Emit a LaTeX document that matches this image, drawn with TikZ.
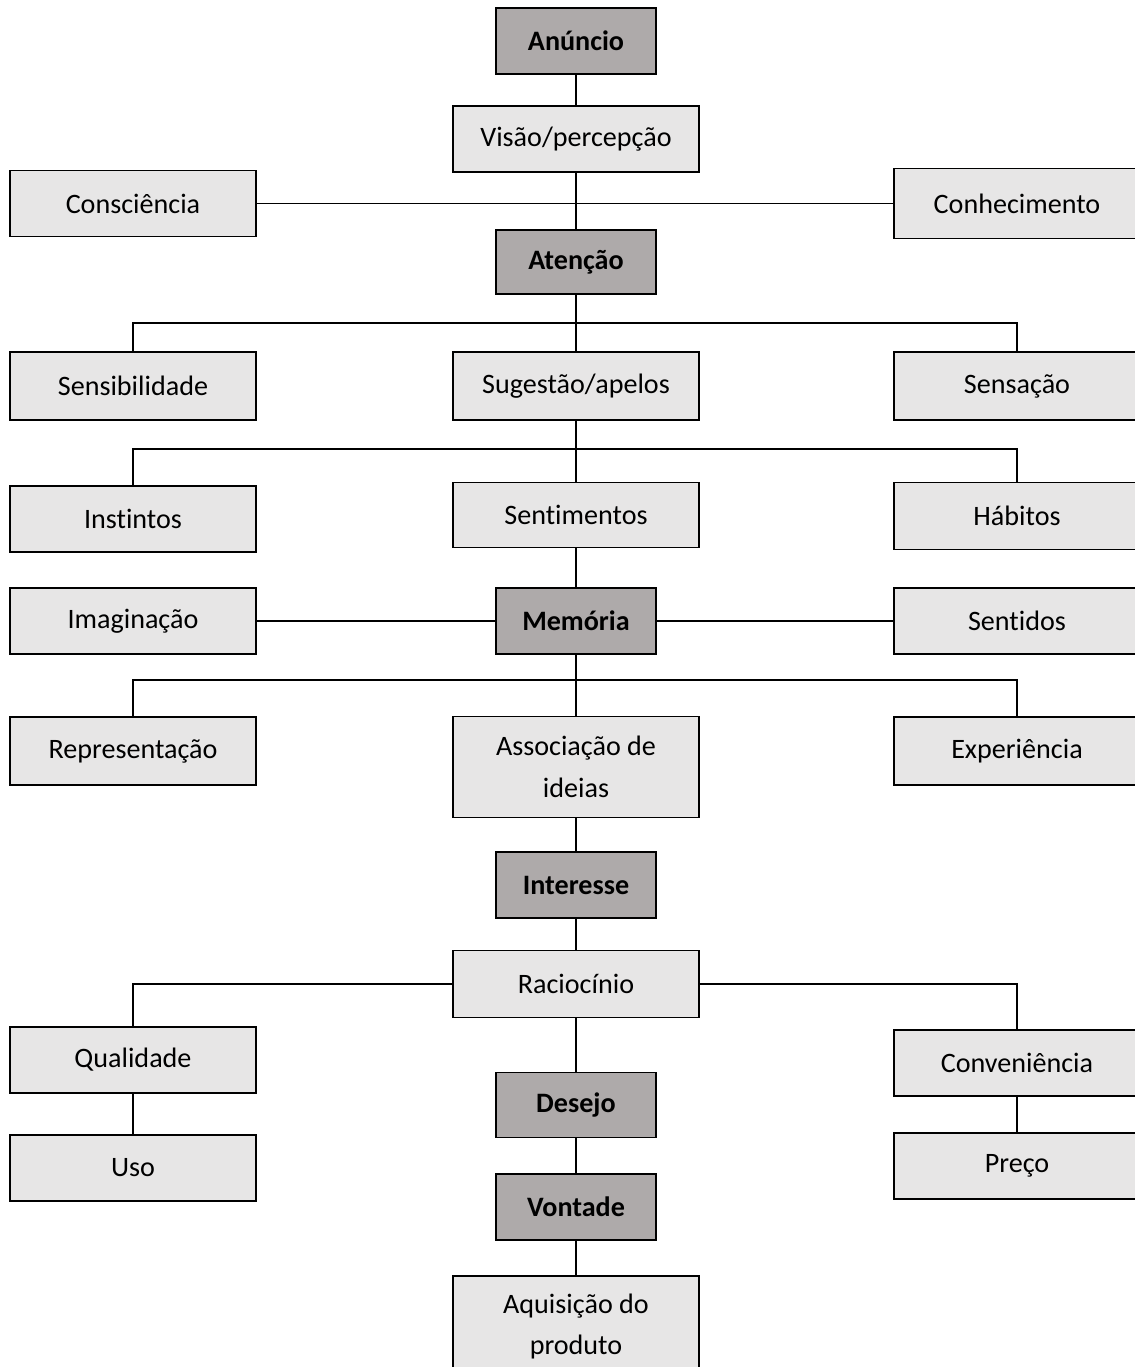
\documentclass[tikz,border=0pt]{standalone}
\usepackage{fontspec}
\setmainfont{Carlito}[RawFeature=-liga]
\usepackage{tikz}
\usetikzlibrary{positioning}

\definecolor{darkbox}{HTML}{AEAAAA}
\definecolor{lightbox}{HTML}{E7E6E6}

\begin{document}
\begin{tikzpicture}[
  box/.style={draw, line width=1.1pt, fill=lightbox, minimum width=4.92cm, minimum height=1.32cm,
              align=center, inner sep=0pt, font=\fontsize{16}{23.8}\selectfont},
  stage/.style={box, fill=darkbox, minimum width=3.2cm, font=\fontsize{16}{23.8}\selectfont\bfseries},
  tall/.style={minimum height=2.02cm},
  link/.style={line width=1.1pt}
]
  \useasboundingbox (0,0) rectangle (22.7,-27.34);

  % Main column
  \node[stage] at (11.52,-0.82) (anun) {Anúncio};
  \node[box] at (11.52,-2.78) (visao) {Visão/percepção};
  \node[stage, minimum height=1.28cm] at (11.52,-5.24) (aten) {Atenção};
  \node[box, minimum height=1.36cm] at (11.52,-7.72) (suges) {Sugestão/apelos};
  \node[box, minimum height=1.30cm] at (11.52,-10.30) (senti) {Sentimentos};
  \node[stage] at (11.52,-12.42) (memo) {Memória};
  \node[box, tall] at (11.52,-15.34) (assoc) {Associação de\\ideias};
  \node[stage] at (11.52,-17.70) (inter) {Interesse};
  \node[box, minimum height=1.34cm] at (11.52,-19.68) (racio) {Raciocínio};
  \node[stage, minimum height=1.30cm] at (11.52,-22.10) (desejo) {Desejo};
  \node[stage] at (11.52,-24.14) (vontade) {Vontade};
  \node[box, tall] at (11.52,-26.53) (aquis) {Aquisição do\\produto};

  % Left column
  \node[box] at (2.66,-4.07) (consc) {Consciência};
  \node[box, minimum height=1.36cm] at (2.66,-7.72) (sensib) {Sensibilidade};
  \node[box] at (2.66,-10.38) (instin) {Instintos};
  \node[box] at (2.66,-12.42) (imagin) {Imaginação};
  \node[box, minimum height=1.36cm] at (2.66,-15.02) (repres) {Representação};
  \node[box] at (2.66,-21.20) (quali) {Qualidade};
  \node[box] at (2.66,-23.36) (uso) {Uso};

  % Right column
  \node[box, minimum height=1.40cm] at (20.34,-4.07) (conhec) {Conhecimento};
  \node[box, minimum height=1.36cm] at (20.34,-7.72) (sensac) {Sensação};
  \node[box, minimum height=1.34cm] at (20.34,-10.32) (habit) {Hábitos};
  \node[box] at (20.34,-12.42) (sentid) {Sentidos};
  \node[box, minimum height=1.36cm] at (20.34,-15.02) (exper) {Experiência};
  \node[box] at (20.34,-21.26) (conv) {Conveniência};
  \node[box] at (20.34,-23.32) (preco) {Preço};

  % Branch points
  \coordinate (j1) at (11.52,-6.46);
  \coordinate (j2) at (11.52,-8.98);
  \coordinate (j3) at (11.52,-13.60);

  % Connectors
  \draw[link] (anun) -- (visao);
  \draw[link] (visao) -- (aten);
  \draw[link] (consc.east) -- (conhec.west);
  \draw[link] (aten) -- (suges);
  \draw[link] (sensib.north) |- (j1) -| (sensac.north);
  \draw[link] (suges) -- (senti);
  \draw[link] (instin.north) |- (j2) -| (habit.north);
  \draw[link] (senti) -- (memo);
  \draw[link] (imagin) -- (memo);
  \draw[link] (memo) -- (sentid);
  \draw[link] (memo) -- (assoc);
  \draw[link] (repres.north) |- (j3) -| (exper.north);
  \draw[link] (assoc) -- (inter);
  \draw[link] (inter) -- (racio);
  \draw[link] (racio.west) -| (quali.north);
  \draw[link] (racio.east) -| (conv.north);
  \draw[link] (quali) -- (uso);
  \draw[link] (conv) -- (preco);
  \draw[link] (racio) -- (desejo);
  \draw[link] (desejo) -- (vontade);
  \draw[link] (vontade) -- (aquis);

\end{tikzpicture}
\end{document}
